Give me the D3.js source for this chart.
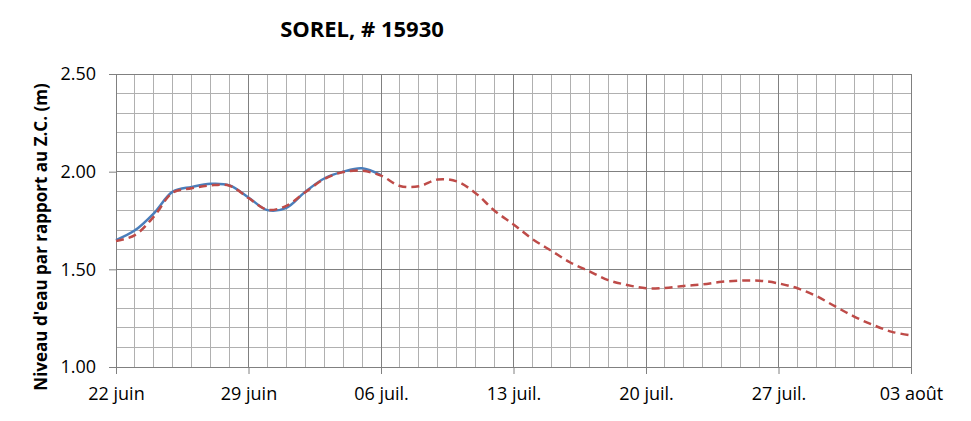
<!DOCTYPE html>
<html><head><meta charset="utf-8">
<script src="https://cdn.jsdelivr.net/npm/d3@7"></script>
<style>
html,body{margin:0;padding:0;background:#fff;}
svg{display:block;}
text{font-family:"Open Sans","Liberation Sans",sans-serif;fill:#000;}
</style></head>
<body><svg id="chart" width="971" height="421"></svg>
<script>
const title = "SOREL, # 15930";
const yTitle = "Niveau d'eau par rapport  au Z.C. (m)";
const tickDays = [0, 7, 14, 21, 28, 35, 42];
const tickLabels = ["22 juin", "29 juin", "06 juil.", "13 juil.", "20 juil.", "27 juil.", "03 août"];
const yTicks = [1.0, 1.5, 2.0, 2.5];
const yTickLabels = ["1.00", "1.50", "2.00", "2.50"];

const obsDays = [0,1,2,3,4,5,6,7,8,9,10,11,12,13,14];
const obsValues = [1.65,1.70,1.787,1.898,1.922,1.938,1.93,1.868,1.803,1.815,1.897,1.965,2.0,2.017,1.982];

const predDays = [0,1,2,3,4,5,6,7,8,9,10,11,12,13,14,15,16,17,18,19,20,21,22,23,24,25,26,27,28,29,30,31,32,33,34,35,36,37,38,39,40,41,42];
const predValues = [1.645,1.675,1.77,1.893,1.915,1.93,1.928,1.865,1.805,1.825,1.895,1.962,1.998,2.005,1.98,1.927,1.925,1.96,1.95,1.89,1.80,1.73,1.655,1.595,1.535,1.49,1.445,1.42,1.403,1.405,1.415,1.423,1.436,1.442,1.442,1.428,1.403,1.363,1.31,1.258,1.215,1.18,1.162];

const svg = d3.select("#chart");
const m = {left:116, right:60, top:74, bottom:54};
const W = 971, H = 421;
const x = d3.scaleLinear().domain([0,42]).range([m.left, W - m.right]);
const y = d3.scaleLinear().domain([1.0,2.5]).range([H - m.bottom, m.top]);

const g = svg.append("g");
// minor grid
g.selectAll("line.vmin").data(d3.range(0,43)).enter().append("line")
  .attr("x1", d=>x(d)).attr("x2", d=>x(d)).attr("y1", y(1)).attr("y2", y(2.5))
  .attr("stroke", "#b0b0b0").attr("stroke-width", 1).attr("shape-rendering","crispEdges");
g.selectAll("line.hmin").data(d3.range(10,26).map(d=>d/10)).enter().append("line")
  .attr("x1", x(0)).attr("x2", x(42)).attr("y1", d=>y(d)).attr("y2", d=>y(d))
  .attr("stroke", "#b0b0b0").attr("stroke-width", 1).attr("shape-rendering","crispEdges");
// major grid
g.selectAll("line.vmaj").data(tickDays).enter().append("line")
  .attr("x1", d=>x(d)).attr("x2", d=>x(d)).attr("y1", y(1)).attr("y2", y(2.5))
  .attr("stroke", "#808080").attr("stroke-width", 1).attr("shape-rendering","crispEdges");
g.selectAll("line.hmaj").data(yTicks).enter().append("line")
  .attr("x1", x(0)).attr("x2", x(42)).attr("y1", d=>y(d)).attr("y2", d=>y(d))
  .attr("stroke", "#808080").attr("stroke-width", 1).attr("shape-rendering","crispEdges");

// axes
const yAxis = d3.axisLeft(y).tickValues(yTicks).tickFormat((d,i)=>yTickLabels[i]).tickSize(7).tickPadding(13);
const ya = svg.append("g").attr("transform", `translate(${x(0)},0)`).call(yAxis);
ya.select(".domain").attr("stroke", "#808080");
ya.selectAll(".tick line").attr("stroke", "#808080");
ya.selectAll("text").style("font-size", "18px").style("font-family", "Open Sans, sans-serif").attr("fill", "#000");

const xAxis = d3.axisBottom(x).tickValues(tickDays).tickFormat((d,i)=>tickLabels[i]).tickSize(7).tickPadding(13);
const xa = svg.append("g").attr("transform", `translate(0,${y(1)})`).call(xAxis);
xa.select(".domain").attr("stroke", "#808080");
xa.selectAll(".tick line").attr("stroke", "#808080");
xa.selectAll("text").style("font-size", "18px").style("font-family", "Open Sans, sans-serif").attr("fill", "#000");

// lines
const lineObs = d3.line().x((d,i)=>x(obsDays[i])).y(d=>y(d)).curve(d3.curveCatmullRom.alpha(0.5));
const linePred = d3.line().x((d,i)=>x(predDays[i])).y(d=>y(d)).curve(d3.curveCatmullRom.alpha(0.5));
svg.append("path").datum(obsValues).attr("d", lineObs).attr("fill","none")
  .attr("stroke","#4a7ebb").attr("stroke-width",2.5);
svg.append("path").datum(predValues).attr("d", linePred).attr("fill","none")
  .attr("stroke","#be4b48").attr("stroke-width",2.5).attr("stroke-dasharray","8,5");

// titles
svg.append("text").attr("x", 362).attr("y", 37).attr("text-anchor","middle")
  .style("font-size","22px").style("font-weight","bold").text(title);
svg.append("text").attr("transform", `translate(47,237) rotate(-90)`)
  .attr("text-anchor","middle").style("font-size","17px").style("font-weight","bold").text(yTitle);
</script></body></html>
